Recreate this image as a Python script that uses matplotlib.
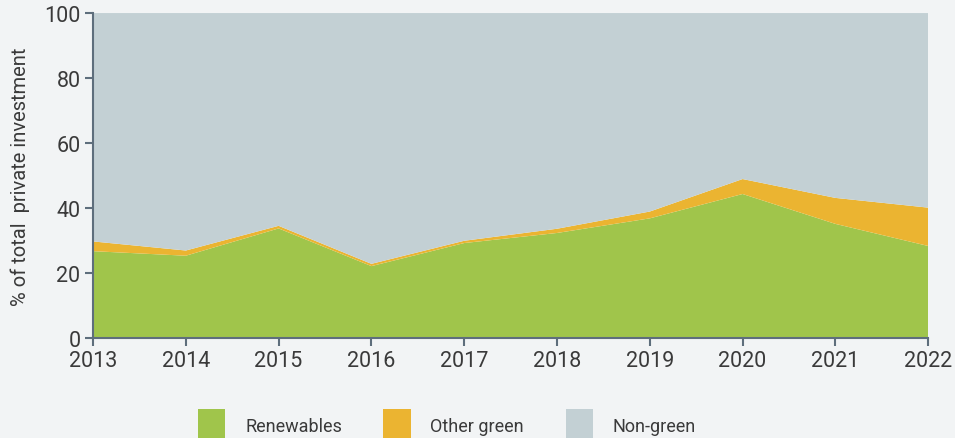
import numpy as np
from matplotlib import pyplot as plt
from matplotlib.patches import Patch

plt.rcParams['font.family'] = ['Roboto', 'DejaVu Sans']

# data (% of total private investment)
years = [2013, 2014, 2015, 2016, 2017, 2018, 2019, 2020, 2021, 2022]
renewables = [26.7, 25.3, 33.7, 22.1, 29.2, 32.3, 36.8, 44.3, 35.1, 28.3]
other_green = [3.0, 1.6, 0.8, 0.7, 0.7, 1.3, 2.1, 4.6, 8.0, 11.8]
non_green = [100 - r - o for r, o in zip(renewables, other_green)]

labels = ['Renewables', 'Other green', 'Non-green']
colors = ['#a0c54b', '#ebb431', '#c3d0d4']

spine_col = '#5e6e7c'
text_col = '#3a3a3a'

fig = plt.figure(figsize=(9.55, 4.39), dpi=100)
fig.patch.set_facecolor('#f2f4f5')
ax = fig.add_axes([0.0974, 0.228, 0.8745, 0.74])

ax.stackplot(years, renewables, other_green, non_green, colors=colors, linewidth=0)

ax.set_xlim(2013, 2022)
ax.set_ylim(0, 100)
ax.set_xticks(years)
ax.set_yticks(np.arange(0, 101, 20))
ax.set_ylabel('% of total  private investment', fontsize=14.5, color=text_col, labelpad=10)

for s in ['top', 'right']:
    ax.spines[s].set_visible(False)
for s in ['left', 'bottom']:
    ax.spines[s].set_color(spine_col)
    ax.spines[s].set_linewidth(1.5)
ax.tick_params(direction='out', length=6, width=1.5, color=spine_col,
               labelsize=15.5, labelcolor=text_col, pad=3)

handles = [Patch(facecolor=c, edgecolor='none') for c in colors]
fig.legend(handles, labels, loc='lower center', bbox_to_anchor=(0.468, -0.045), ncol=3,
           frameon=False, fontsize=13, labelcolor=text_col,
           handlelength=1.5, handleheight=2.4, columnspacing=2.3, handletextpad=1.1)

plt.savefig('out.png', dpi=100, facecolor=fig.get_facecolor())
